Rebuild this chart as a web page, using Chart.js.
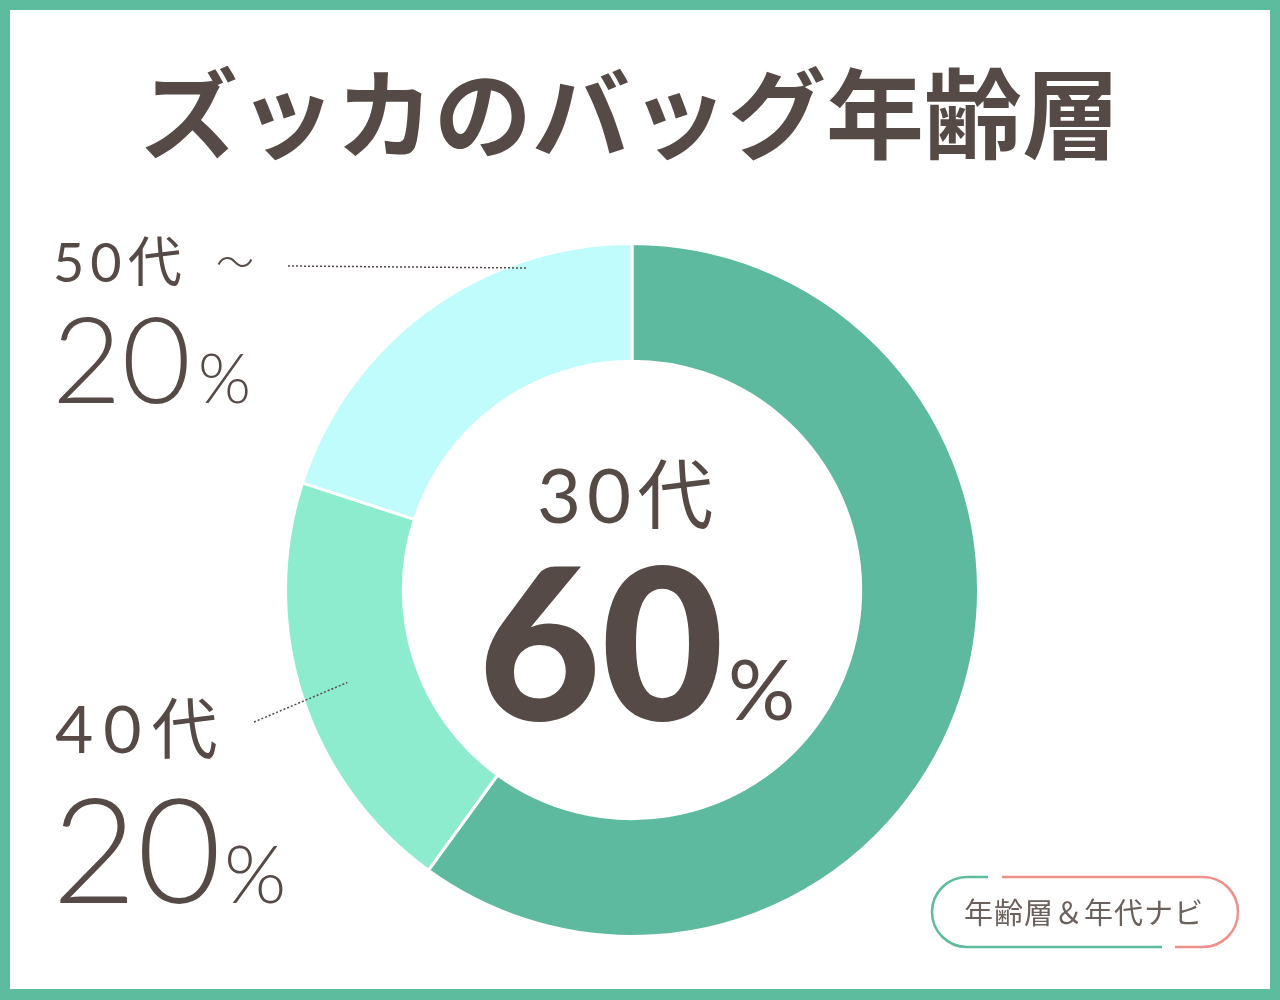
<!DOCTYPE html>
<html>
<head>
<meta charset="utf-8">
<script src="https://cdn.jsdelivr.net/npm/chart.js@4"></script>
<style>
  html, body { margin: 0; padding: 0; background: #fff; }
  #wrap { width: 1280px; height: 1000px; }
</style>
</head>
<body>
<div id="wrap"><canvas id="myChart" width="1280" height="1000"></canvas></div>
<script>
// data
var chartTitle = 'ズッカのバッグ年齢層';
var ageLabels = ['30代', '40代', '50代 ～'];
var shares = [60, 20, 20];
var sliceColors = ['#5dba9e', '#8eecce', '#c0fcfc'];
var badgeText = '年齢層＆年代ナビ';

var ink = '#554a45';
var frame = '#5dbb9e';

var decor = {
  id: 'decor',
  beforeDraw: function (chart) {
    var c = chart.ctx;
    c.save();
    c.fillStyle = '#fff';
    c.fillRect(0, 0, 1280, 1000);
    c.restore();
  },
  afterDraw: function (chart) {
    var c = chart.ctx;
    var arcs = chart.getDatasetMeta(0).data;
    c.save();

    // frame
    c.strokeStyle = frame;
    c.lineWidth = 20;
    c.strokeRect(0, 0, 1280, 1000);
    c.fillStyle = frame;
    c.fillRect(0, 989, 1280, 11);

    // title
    c.fillStyle = ink;
    c.textAlign = 'center';
    c.textBaseline = 'middle';
    c.font = "bold 98px 'Noto Sans CJK JP'";
    c.fillText(chartTitle, 630, 114);

    // centre label (largest slice)
    c.textAlign = 'left';
    c.textBaseline = 'alphabetic';
    c.font = "400 76px Lato, 'Noto Sans CJK JP'";
    c.letterSpacing = '6px';
    c.fillText(ageLabels[0], 537, 523);
    c.letterSpacing = '0px';
    c.font = "900 212px Lato";
    c.fillText(shares[0], 478, 720);
    c.font = "400 84px Lato";
    c.fillText('%', 728, 720);

    // 50代 label
    var parts50 = ageLabels[2].split(' ');
    c.font = "400 54px Lato, 'Noto Sans CJK JP'";
    c.letterSpacing = '6px';
    c.fillText(parts50[0], 53, 282);
    c.letterSpacing = '0px';
    c.font = "300 38px 'Noto Sans CJK JP'";
    c.fillText(parts50[1], 216, 276);
    c.font = "300 120px Lato";
    c.fillText(shares[2], 52, 403);
    c.font = "300 68px Lato";
    c.fillText('%', 198, 403);

    // 40代 label
    c.font = "400 66px Lato, 'Noto Sans CJK JP'";
    c.letterSpacing = '10px';
    c.fillText(ageLabels[1], 55, 753);
    c.letterSpacing = '0px';
    c.font = "300 146px Lato";
    c.fillText(shares[1], 52, 903);
    c.font = "300 80px Lato";
    c.fillText('%', 224, 903);

    // leader lines
    c.strokeStyle = ink;
    c.lineWidth = 1.5;
    c.setLineDash([2, 2]);
    var a1 = arcs[1];
    var mid1 = (a1.startAngle + a1.endAngle) / 2;
    var r1 = a1.innerRadius + (a1.outerRadius - a1.innerRadius) * 0.6;
    c.beginPath();
    c.moveTo(254, 722);
    c.lineTo(a1.x + Math.cos(mid1) * r1, a1.y + Math.sin(mid1) * r1);
    c.stroke();
    c.beginPath();
    c.moveTo(288, 266);
    c.lineTo(527, 268);
    c.stroke();
    c.setLineDash([]);

    // badge
    var bx = 932, by = 877, bw = 306, bh = 70, br = 35;
    c.lineWidth = 2.5;
    c.strokeStyle = frame;
    c.beginPath();
    c.moveTo(988, by);
    c.lineTo(bx + br, by);
    c.arc(bx + br, by + br, br, -Math.PI / 2, Math.PI / 2, true);
    c.lineTo(1162, by + bh);
    c.stroke();
    c.strokeStyle = '#f0908a';
    c.beginPath();
    c.moveTo(1002, by);
    c.lineTo(bx + bw - br, by);
    c.arc(bx + bw - br, by + br, br, -Math.PI / 2, Math.PI / 2, false);
    c.lineTo(1175, by + bh);
    c.stroke();
    c.fillStyle = '#6b615c';
    c.font = "400 29px 'Noto Sans CJK JP'";
    c.textAlign = 'center';
    c.textBaseline = 'middle';
    c.letterSpacing = '1px';
    c.fillText(badgeText, 1084, 913);

    c.restore();
  }
};

var ctx = document.getElementById('myChart').getContext('2d');
var myChart = new Chart(ctx, {
  type: 'doughnut',
  data: {
    labels: ageLabels,
    datasets: [{
      data: shares,
      backgroundColor: sliceColors,
      borderColor: '#ffffff',
      borderWidth: 3
    }]
  },
  options: {
    responsive: false,
    animation: false,
    cutout: '66%',
    layout: {
      padding: { left: 284, right: 300, top: 242, bottom: 62 }
    },
    plugins: {
      legend: { display: false },
      tooltip: { enabled: false },
      title: { display: false }
    }
  },
  plugins: [decor]
});
</script>
</body>
</html>
